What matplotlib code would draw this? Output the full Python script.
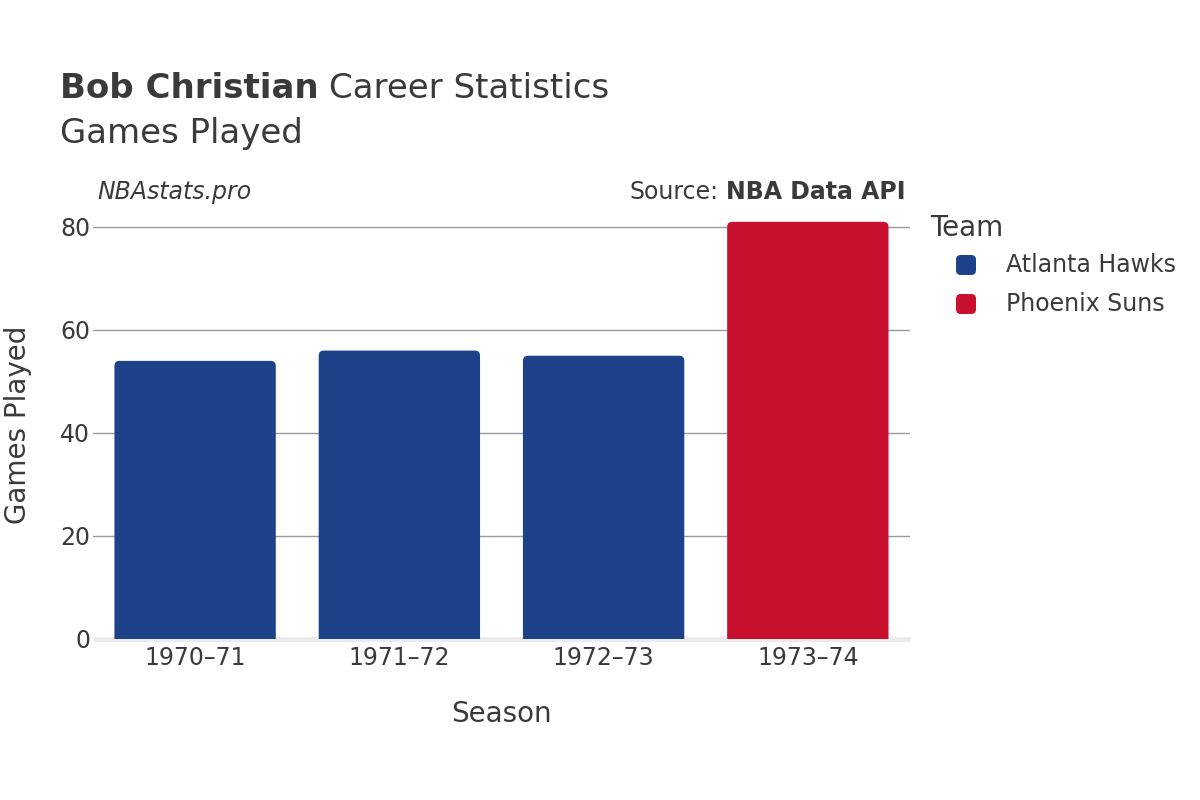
import matplotlib.pyplot as plt
from matplotlib.patches import FancyBboxPatch

# data
seasons = ["1970\u201371", "1971\u201372", "1972\u201373", "1973\u201374"]
games = [54, 56, 55, 81]
teams = ["Atlanta Hawks", "Atlanta Hawks", "Atlanta Hawks", "Phoenix Suns"]
team_colors = {"Atlanta Hawks": "#1d428a", "Phoenix Suns": "#c8102e"}
legend_teams = ["Atlanta Hawks", "Phoenix Suns"]

text_color = "#3a3a3a"
plt.rcParams['font.family'] = ['DejaVu Sans']

W, H = 1200, 800
fig = plt.figure(figsize=(12, 8), dpi=100)
ax = fig.add_axes([0.0775, 0.20125, 0.6808, 0.535])

ymax = 83.1
ax.set_xlim(-0.5, len(seasons) - 0.5)
ax.set_ylim(0, ymax)

# rounded-top bars
bar_w = 0.79
aspect = (ymax / (0.535 * H)) / (len(seasons) / (0.6808 * W))
for i, (g, t) in enumerate(zip(games, teams)):
    patch = FancyBboxPatch((i - bar_w / 2, -5), bar_w, g + 5,
                           boxstyle="round,pad=0,rounding_size=0.025",
                           mutation_aspect=aspect,
                           facecolor=team_colors[t], edgecolor="none", zorder=3)
    ax.add_patch(patch)

# grid + zero line
for yv in [20, 40, 60, 80]:
    ax.axhline(yv, color="#9a9a9a", lw=1, zorder=1)
ax.axhline(0, color="#ebebeb", lw=3.5, zorder=2, clip_on=False, solid_capstyle="butt")

ax.set_xticks(range(len(seasons)))
ax.set_xticklabels(seasons)
ax.set_yticks([0, 20, 40, 60, 80])
ax.tick_params(axis="both", length=0, labelsize=17, labelcolor=text_color)
ax.tick_params(axis="x", pad=5)
ax.tick_params(axis="y", pad=2)
for s in ax.spines.values():
    s.set_visible(False)

ax.set_xlabel("Season", fontsize=20, color=text_color, labelpad=22)
ax.set_ylabel("Games Played", fontsize=20, color=text_color, labelpad=20)

renderer = fig.canvas.get_renderer()

# titles
t1 = fig.text(60 / W, 1 - 89 / H, "Bob Christian", fontsize=24.5, fontweight="bold",
              color=text_color, va="center")
bb = t1.get_window_extent(renderer)
fig.text(bb.x1 / W + 10 / W, 1 - 89 / H, "Career Statistics", fontsize=24.5,
         color=text_color, va="center")
fig.text(60 / W, 1 - 133 / H, "Games Played", fontsize=24.5, color=text_color, va="center")

fig.text(97 / W, 1 - 192 / H, "NBAstats.pro", fontsize=17, style="italic",
         color=text_color, va="center")
t2 = fig.text(906 / W, 1 - 192 / H, "NBA Data API", fontsize=17, fontweight="bold",
              color=text_color, va="center", ha="right")
bb2 = t2.get_window_extent(renderer)
fig.text(bb2.x0 / W - 8 / W, 1 - 192 / H, "Source:", fontsize=17, color=text_color,
         va="center", ha="right")

# legend (drawn by hand for rounded markers)
fig.text(930 / W, 1 - 228 / H, "Team", fontsize=20, color=text_color, va="center")
for k, name in enumerate(legend_teams):
    yc = 265 + 39 * k
    sq = 20
    fig.patches.append(FancyBboxPatch(((966 - sq / 2) / W, 1 - (yc + sq / 2) / H),
                                      sq / W, sq / H,
                                      boxstyle="round,pad=0,rounding_size=0.004",
                                      mutation_aspect=W / H,
                                      transform=fig.transFigure,
                                      facecolor=team_colors[name], edgecolor="none"))
    fig.text(1006 / W, 1 - yc / H, name, fontsize=17, color=text_color, va="center")

fig.savefig("out.png", dpi=100, facecolor="white")
